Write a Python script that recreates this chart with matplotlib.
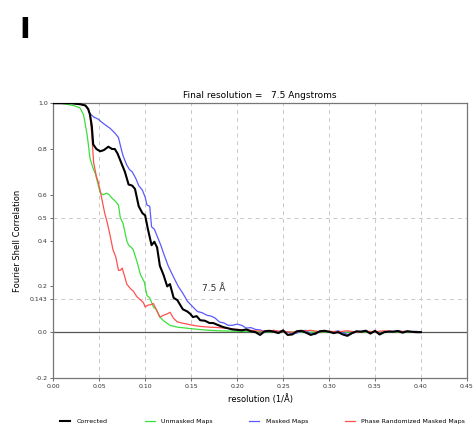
import numpy as np
import matplotlib
matplotlib.use("Agg")
import matplotlib.pyplot as plt

# values (x in 1/A, y = FSC)
corr_x = [0.0, 0.02, 0.03, 0.035, 0.038, 0.040, 0.042, 0.0435, 0.047, 0.051, 0.055, 0.060, 0.064, 0.067,
          0.070, 0.073, 0.078, 0.082, 0.086, 0.089, 0.093, 0.097, 0.100, 0.103, 0.107, 0.110, 0.113,
          0.116, 0.120, 0.124, 0.127, 0.131, 0.135, 0.141, 0.146, 0.149, 0.152, 0.156, 0.160, 0.165,
          0.170, 0.174, 0.180, 0.185, 0.189, 0.195, 0.20, 0.205, 0.21, 0.215, 0.22, 0.225, 0.23, 0.235,
          0.24, 0.245, 0.25, 0.255, 0.26, 0.265, 0.27, 0.275, 0.28, 0.285, 0.29, 0.295, 0.30, 0.305,
          0.31, 0.315, 0.32, 0.325, 0.33, 0.335, 0.34, 0.345, 0.35, 0.355, 0.36, 0.365, 0.37, 0.375,
          0.38, 0.385, 0.39, 0.395, 0.40]
corr_y = [1.0, 1.0, 0.995, 0.99, 0.975, 0.95, 0.90, 0.82, 0.80, 0.79, 0.795, 0.81, 0.80, 0.80,
          0.78, 0.75, 0.70, 0.645, 0.64, 0.625, 0.55, 0.52, 0.51, 0.45, 0.38, 0.395, 0.37,
          0.29, 0.25, 0.20, 0.21, 0.15, 0.14, 0.10, 0.09, 0.08, 0.066, 0.07, 0.052, 0.05,
          0.04, 0.04, 0.03, 0.022, 0.018, 0.012, 0.01, 0.008, 0.012, 0.004, 0.0, -0.012, 0.004, 0.006,
          0.002, -0.004, 0.008, -0.012, -0.01, 0.004, 0.006, -0.002, -0.012, -0.006, 0.004, 0.006, 0.002, -0.004,
          0.0, -0.01, -0.016, -0.004, 0.004, 0.002, 0.006, -0.006, 0.006, -0.01, 0.0, 0.003, 0.002, 0.005,
          -0.002, 0.004, 0.002, 0.0, 0.0]

unm_x = [0.0, 0.008, 0.015, 0.022, 0.029, 0.033, 0.037, 0.040, 0.043, 0.046, 0.051, 0.054, 0.058,
         0.061, 0.064, 0.068, 0.071, 0.073, 0.076, 0.080, 0.082, 0.085, 0.087, 0.091, 0.095, 0.099,
         0.102, 0.105, 0.109, 0.112, 0.116, 0.120, 0.127, 0.135, 0.146, 0.158, 0.17, 0.18, 0.19,
         0.20, 0.21, 0.22, 0.23, 0.24, 0.25, 0.26, 0.27, 0.28, 0.29, 0.30, 0.31, 0.32, 0.33, 0.34,
         0.35, 0.36, 0.37, 0.38, 0.39, 0.40]
unm_y = [1.0, 1.0, 0.995, 0.99, 0.98, 0.95, 0.86, 0.76, 0.72, 0.69, 0.61, 0.60, 0.607,
         0.60, 0.585, 0.57, 0.555, 0.50, 0.475, 0.40, 0.38, 0.37, 0.36, 0.31, 0.25, 0.22,
         0.16, 0.15, 0.11, 0.10, 0.066, 0.05, 0.03, 0.022, 0.017, 0.012, 0.008, 0.006, 0.005,
         0.004, 0.003, 0.002, 0.002, 0.001, 0.002, 0.0, 0.001, 0.0, 0.001, 0.0, 0.001, 0.0, 0.001, 0.0,
         0.001, 0.0, 0.0, 0.001, 0.0, 0.0]

mask_x = [0.0, 0.02, 0.03, 0.035, 0.038, 0.040, 0.044, 0.049, 0.055, 0.062, 0.067, 0.071, 0.074,
          0.076, 0.080, 0.083, 0.086, 0.090, 0.093, 0.097, 0.100, 0.102, 0.105, 0.107, 0.110, 0.114,
          0.117, 0.120, 0.125, 0.131, 0.136, 0.141, 0.146, 0.152, 0.157, 0.162, 0.167, 0.172, 0.176,
          0.181, 0.186, 0.190, 0.195, 0.20, 0.205, 0.21, 0.215, 0.22, 0.225, 0.23, 0.235, 0.24, 0.245,
          0.25, 0.255, 0.26, 0.265, 0.27, 0.275, 0.28, 0.285, 0.29, 0.295, 0.30, 0.305, 0.31, 0.315,
          0.32, 0.325, 0.33, 0.335, 0.34, 0.345, 0.35, 0.355, 0.36, 0.365, 0.37, 0.375, 0.38, 0.385,
          0.39, 0.395, 0.40]
mask_y = [1.0, 1.0, 0.995, 0.99, 0.975, 0.955, 0.94, 0.93, 0.91, 0.89, 0.87, 0.85, 0.80,
          0.77, 0.73, 0.71, 0.70, 0.67, 0.64, 0.62, 0.59, 0.555, 0.55, 0.46, 0.45, 0.41,
          0.38, 0.345, 0.29, 0.24, 0.20, 0.17, 0.135, 0.11, 0.09, 0.085, 0.074, 0.07, 0.062,
          0.044, 0.04, 0.03, 0.03, 0.035, 0.03, 0.018, 0.02, 0.012, 0.01, 0.002, 0.006, 0.004, 0.002,
          0.006, 0.0, -0.008, -0.004, 0.006, 0.008, -0.008, -0.01, 0.004, 0.006, 0.0, 0.002, 0.006, -0.002,
          -0.01, -0.006, 0.002, 0.004, 0.008, -0.004, 0.004, -0.006, 0.0, 0.002, 0.004, 0.006, 0.002, 0.004,
          0.002, 0.004, 0.0]

phase_x = [0.0, 0.02, 0.03, 0.035, 0.038, 0.040, 0.042, 0.044, 0.047, 0.049, 0.051, 0.053, 0.056,
           0.059, 0.062, 0.065, 0.068, 0.071, 0.073, 0.075, 0.078, 0.080, 0.084, 0.087, 0.091, 0.095,
           0.098, 0.100, 0.103, 0.106, 0.109, 0.112, 0.116, 0.120, 0.124, 0.127, 0.131, 0.135, 0.140,
           0.146, 0.152, 0.160, 0.17, 0.18, 0.189, 0.20, 0.21, 0.22, 0.23, 0.24, 0.25, 0.26, 0.27,
           0.28, 0.29, 0.30, 0.31, 0.32, 0.33, 0.34, 0.35, 0.36, 0.37, 0.38, 0.39, 0.40]
phase_y = [1.0, 1.0, 0.995, 0.99, 0.975, 0.95, 0.86, 0.74, 0.68, 0.655, 0.62, 0.58, 0.52,
           0.475, 0.42, 0.36, 0.33, 0.27, 0.27, 0.28, 0.24, 0.21, 0.19, 0.18, 0.155, 0.14,
           0.13, 0.11, 0.118, 0.12, 0.125, 0.10, 0.066, 0.074, 0.08, 0.087, 0.06, 0.045, 0.04,
           0.035, 0.03, 0.025, 0.022, 0.02, 0.017, 0.012, 0.01, 0.006, 0.004, 0.008, 0.002, 0.0, 0.004,
           0.008, 0.002, 0.004, 0.002, 0.006, 0.0, 0.004, 0.002, 0.006, 0.002, 0.004, 0.002, 0.0]

y_ticks = [-0.2, 0.0, 0.143, 0.2, 0.4, 0.5, 0.6, 0.8, 1.0]
y_labels = ["-0.2", "0.0", "0.143", "0.2", "0.4", "0.5", "0.6", "0.8", "1.0"]
x_ticks = [0.0, 0.05, 0.10, 0.15, 0.20, 0.25, 0.30, 0.35, 0.40, 0.45]

fig = plt.figure(figsize=(4.75, 4.3), dpi=100)
ax = fig.add_axes([0.112, 0.121, 0.871, 0.639])

for xv in x_ticks[1:-1]:
    ax.axvline(xv, color="#c8c8c8", lw=0.7, ls=(0, (4, 4)), zorder=0)
for yv in [0.143, 0.5]:
    ax.axhline(yv, color="#c8c8c8", lw=0.7, ls=(0, (4, 4)), zorder=0)
ax.axhline(0.0, color="#555555", lw=0.9, zorder=1)

ax.plot(unm_x, unm_y, color="#3ce03c", lw=0.9, label="Unmasked Maps", zorder=2)
ax.plot(mask_x, mask_y, color="#5a5aff", lw=0.9, label="Masked Maps", zorder=3)
ax.plot(phase_x, phase_y, color="#ff5050", lw=0.9, label="Phase Randomized Masked Maps", zorder=4)
ax.plot(corr_x, corr_y, color="black", lw=1.5, label="Corrected", zorder=5)

ax.set_xlim(0, 0.45)
ax.set_ylim(-0.2, 1.0)
ax.set_xticks(x_ticks)
ax.set_xticklabels(["%.2f" % v for v in x_ticks])
ax.set_yticks(y_ticks)
ax.set_yticklabels(y_labels)
ax.tick_params(labelsize=4.5, length=2, width=0.5, colors="#333333", pad=2)
for s in ax.spines.values():
    s.set_color("#777777")
    s.set_linewidth(0.9)

ax.set_title("Final resolution =   7.5 Angstroms", fontsize=6.5, pad=4)
ax.set_xlabel("resolution (1/Å)", fontsize=6, labelpad=4)
ax.set_ylabel("Fourier Shell Correlation", fontsize=6, labelpad=6)
ax.text(0.162, 0.18, "7.5 Å", fontsize=6.5, color="#333333")

fig.text(0.040, 0.962, "I", fontsize=21, fontweight="bold", va="top")

h, l = ax.get_legend_handles_labels()
order = [3, 0, 1, 2]
fig.legend([h[i] for i in order], [l[i] for i in order], loc="lower center",
           bbox_to_anchor=(0.553, 0.0), ncol=4, fontsize=4.5, frameon=False,
           handlelength=1.6, columnspacing=5.9, handletextpad=1.0)

fig.savefig("out.png", dpi=100)
